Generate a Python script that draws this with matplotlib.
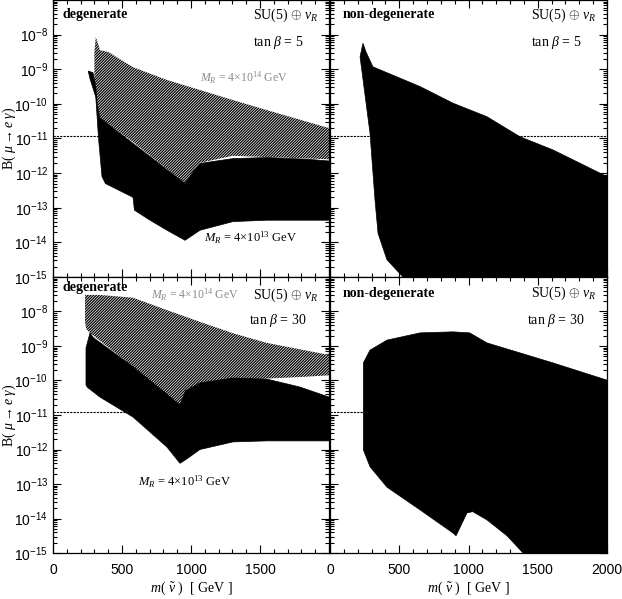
import numpy as np
import matplotlib
matplotlib.use("Agg")
import matplotlib.pyplot as plt
from matplotlib.ticker import MultipleLocator, LogLocator, FuncFormatter, NullFormatter

plt.rcParams['font.family'] = ['Liberation Sans', 'DejaVu Sans']
plt.rcParams['mathtext.fontset'] = 'custom'
plt.rcParams['mathtext.rm'] = 'Liberation Serif'
plt.rcParams['mathtext.it'] = 'Liberation Serif:italic'
plt.rcParams['mathtext.bf'] = 'Liberation Serif:bold'
plt.rcParams['hatch.linewidth'] = 0.9

SERIF = ['Liberation Serif', 'DejaVu Serif']

# ---------------- data (x: sneutrino mass in GeV, y: log10 B(mu->e gamma)) ----------------
# top-left: degenerate, tan beta = 5
tl_grey_up_x = [300, 310, 330, 340, 400, 580, 826, 1065, 1304, 1550, 2000]
tl_grey_up_y = [-8.5, -8.07, -8.3, -8.45, -8.5, -8.94, -9.31, -9.6, -9.89, -10.18, -10.7]
tl_grey_lo_x = [2000, 1304, 1065, 957, 580, 340, 300]
tl_grey_lo_y = [-11.6, -11.5, -11.7, -12.3, -11.1, -10.4, -9.6]
tl_black_up_x = [255, 290, 310, 320, 340, 580, 826, 957, 1000, 1065, 1304, 1550, 1848, 2000]
tl_black_up_y = [-9.05, -9.1, -9.5, -10.0, -10.4, -11.14, -11.9, -12.3, -12.05, -11.72, -11.58, -11.55, -11.6, -11.65]
tl_black_lo_x = [2000, 1550, 1304, 1065, 957, 826, 703, 590, 580, 380, 355, 330, 310, 270]
tl_black_lo_y = [-13.36, -13.36, -13.4, -13.65, -13.94, -13.65, -13.36, -13.07, -12.7, -12.3, -12.1, -11.0, -9.8, -9.3]

# top-right: non-degenerate, tan beta = 5
tr_black_up_x = [217, 238, 260, 310, 650, 888, 1133, 1372, 1610, 2000]
tr_black_up_y = [-8.64, -8.25, -8.5, -8.93, -9.5, -9.98, -10.37, -10.95, -11.33, -12.1]
tr_black_lo_x = [2000, 527, 527, 411, 347, 325, 289]
tr_black_lo_y = [-15.5, -15.5, -15.0, -14.5, -13.74, -12.78, -10.85]

# bottom-left: degenerate, tan beta = 30
bl_grey_up_x = [232, 340, 580, 826, 1065, 1304, 1550, 2000]
bl_grey_up_y = [-7.52, -7.52, -7.6, -7.96, -8.3, -8.63, -8.91, -9.26]
bl_grey_lo_x = [2000, 1790, 1304, 1065, 920, 580, 268, 240, 232]
bl_grey_lo_y = [-9.85, -9.9, -9.99, -10.13, -10.75, -9.6, -8.62, -8.5, -8.3]
bl_black_up_x = [239, 268, 290, 580, 920, 960, 1065, 1304, 1550, 1790, 2000]
bl_black_up_y = [-9.06, -8.62, -8.75, -9.6, -10.71, -10.3, -10.07, -9.93, -9.96, -10.19, -10.48]
bl_black_lo_x = [2000, 1550, 1304, 1065, 960, 920, 826, 580, 340, 250, 239]
bl_black_lo_y = [-11.75, -11.75, -11.78, -12.0, -12.3, -12.4, -11.93, -11.06, -10.48, -10.2, -10.13]

# bottom-right: non-degenerate, tan beta = 30
br_black_up_x = [241, 241, 289, 411, 650, 888, 1009, 1133, 1372, 1610, 2000]
br_black_up_y = [-10.0, -9.49, -9.12, -8.83, -8.62, -8.59, -8.62, -8.91, -9.2, -9.49, -9.99]
br_black_lo_x = [2000, 1394, 1394, 1278, 1133, 1030, 989, 910, 888, 650, 411, 289, 241]
br_black_lo_y = [-15.5, -15.5, -15.0, -14.5, -14.04, -13.8, -13.84, -14.5, -14.42, -13.75, -13.09, -12.5, -12.01]

exp_bound = 1.2e-11
tan_betas = [5, 30]

W, H = 622, 599
fig = plt.figure(figsize=(W / 100, H / 100), dpi=100)

def pos(x0, x1, y0, y1):
    return [x0 / W, 1 - y1 / H, (x1 - x0) / W, (y1 - y0) / H]

ax_tl = fig.add_axes(pos(53, 329, 0, 277))
ax_tr = fig.add_axes(pos(330, 607, 0, 277))
ax_bl = fig.add_axes(pos(53, 329, 277, 553))
ax_br = fig.add_axes(pos(330, 607, 277, 553))


def ylab(v, p):
    e = int(round(np.log10(v)))
    if e >= -7 or e < -15:
        return ''
    return r'$\mathdefault{10^{%d}}$' % e


def setup(ax, show_x, show_y, hide_2000=False):
    ax.set_yscale('log')
    ax.set_xlim(0, 2000)
    ax.set_ylim(1e-15, 1e-7)
    ax.xaxis.set_major_locator(MultipleLocator(500))
    ax.xaxis.set_minor_locator(MultipleLocator(100))
    ax.yaxis.set_major_locator(LogLocator(base=10, numticks=20))
    ax.yaxis.set_minor_locator(LogLocator(base=10, subs=np.arange(2, 10), numticks=20))
    ax.yaxis.set_minor_formatter(NullFormatter())
    ax.tick_params(which='both', direction='in', top=True, right=True, labelsize=10, width=0.8)
    ax.tick_params(which='major', length=6)
    ax.tick_params(which='minor', length=3)
    ax.tick_params(axis='x', pad=7)
    if show_y:
        ax.yaxis.set_major_formatter(FuncFormatter(ylab))
    else:
        ax.yaxis.set_major_formatter(NullFormatter())
    if show_x:
        if hide_2000:
            ax.xaxis.set_major_formatter(FuncFormatter(lambda v, p: '' if v >= 2000 else '%d' % v))
        else:
            ax.xaxis.set_major_formatter(FuncFormatter(lambda v, p: '%d' % v))
        ax.set_xlabel(r'$m$( $\tilde{\nu}$ )  [ GeV ]', family=SERIF, fontsize=10)
        ax.xaxis.set_label_coords(0.5, -0.095)
    else:
        ax.xaxis.set_major_formatter(NullFormatter())
    if show_y:
        ax.set_ylabel(r'B( $\mu \rightarrow e\ \gamma$)', family=SERIF, fontsize=10)
        ax.yaxis.set_label_coords(-0.128, 0.5)
    for s in ax.spines.values():
        s.set_linewidth(0.9)


def poly(ax, ux, uy, lx, ly, grey=False):
    xs = list(ux) + list(lx)
    ys = [10.0 ** v for v in list(uy) + list(ly)]
    if grey:
        ax.fill(xs, ys, facecolor='white', edgecolor='black', hatch='/' * 12, linewidth=0, zorder=2)
    else:
        ax.fill(xs, ys, facecolor='black', edgecolor='black', linewidth=0.5, zorder=3)


for ax in (ax_tl, ax_tr, ax_bl, ax_br):
    ax.axhline(exp_bound, color='black', lw=0.8, ls=(0, (2, 1)), zorder=1)

poly(ax_tl, tl_grey_up_x, tl_grey_up_y, tl_grey_lo_x, tl_grey_lo_y, grey=True)
poly(ax_tl, tl_black_up_x, tl_black_up_y, tl_black_lo_x, tl_black_lo_y)
poly(ax_tr, tr_black_up_x, tr_black_up_y, tr_black_lo_x, tr_black_lo_y)
poly(ax_bl, bl_grey_up_x, bl_grey_up_y, bl_grey_lo_x, bl_grey_lo_y, grey=True)
poly(ax_bl, bl_black_up_x, bl_black_up_y, bl_black_lo_x, bl_black_lo_y)
poly(ax_br, br_black_up_x, br_black_up_y, br_black_lo_x, br_black_lo_y)

setup(ax_tl, False, True)
setup(ax_tr, False, False)
setup(ax_bl, True, True, hide_2000=True)
setup(ax_br, True, False)

# annotations
def labels(ax, kind, tb, ytop, ysu, ytan):
    x0 = 0.033 if kind == 'degenerate' else 0.047
    ax.text(x0, ytop, kind, transform=ax.transAxes, family=SERIF, fontweight='bold',
            fontsize=10, ha='left', va='center', zorder=5)
    ax.text(0.962, ysu, r'SU(5) $\oplus$ $\nu_R$', transform=ax.transAxes, family=SERIF,
            fontsize=10, ha='right', va='center', zorder=5)
    ax.text(0.815, ytan, r'tan $\beta$ = %d' % tb, transform=ax.transAxes, family=SERIF,
            fontsize=10, ha='center', va='center', zorder=5)

labels(ax_tl, 'degenerate', tan_betas[0], 0.946, 0.946, 0.845)
labels(ax_tr, 'non-degenerate', tan_betas[0], 0.946, 0.946, 0.845)
labels(ax_bl, 'degenerate', tan_betas[1], 0.962, 0.935, 0.844)
labels(ax_br, 'non-degenerate', tan_betas[1], 0.942, 0.942, 0.844)

ax_tl.text(0.69, 0.718, r'$M_R$ = 4$\times$10$^{14}$ GeV', transform=ax_tl.transAxes,
           family=SERIF, fontsize=8.5, color='#8a8a8a', ha='center', va='center', zorder=5)
ax_tl.text(0.717, 0.14, r'$M_R$ = 4$\times$10$^{13}$ GeV', transform=ax_tl.transAxes,
           family=SERIF, fontsize=9, color='black', ha='center', va='center', zorder=5)
ax_bl.text(0.515, 0.935, r'$M_R$ = 4$\times$10$^{14}$ GeV', transform=ax_bl.transAxes,
           family=SERIF, fontsize=8.5, color='#8a8a8a', ha='center', va='center', zorder=5)
ax_bl.text(0.475, 0.257, r'$M_R$ = 4$\times$10$^{13}$ GeV', transform=ax_bl.transAxes,
           family=SERIF, fontsize=9, color='black', ha='center', va='center', zorder=5)

fig.savefig('out.png', dpi=100)
